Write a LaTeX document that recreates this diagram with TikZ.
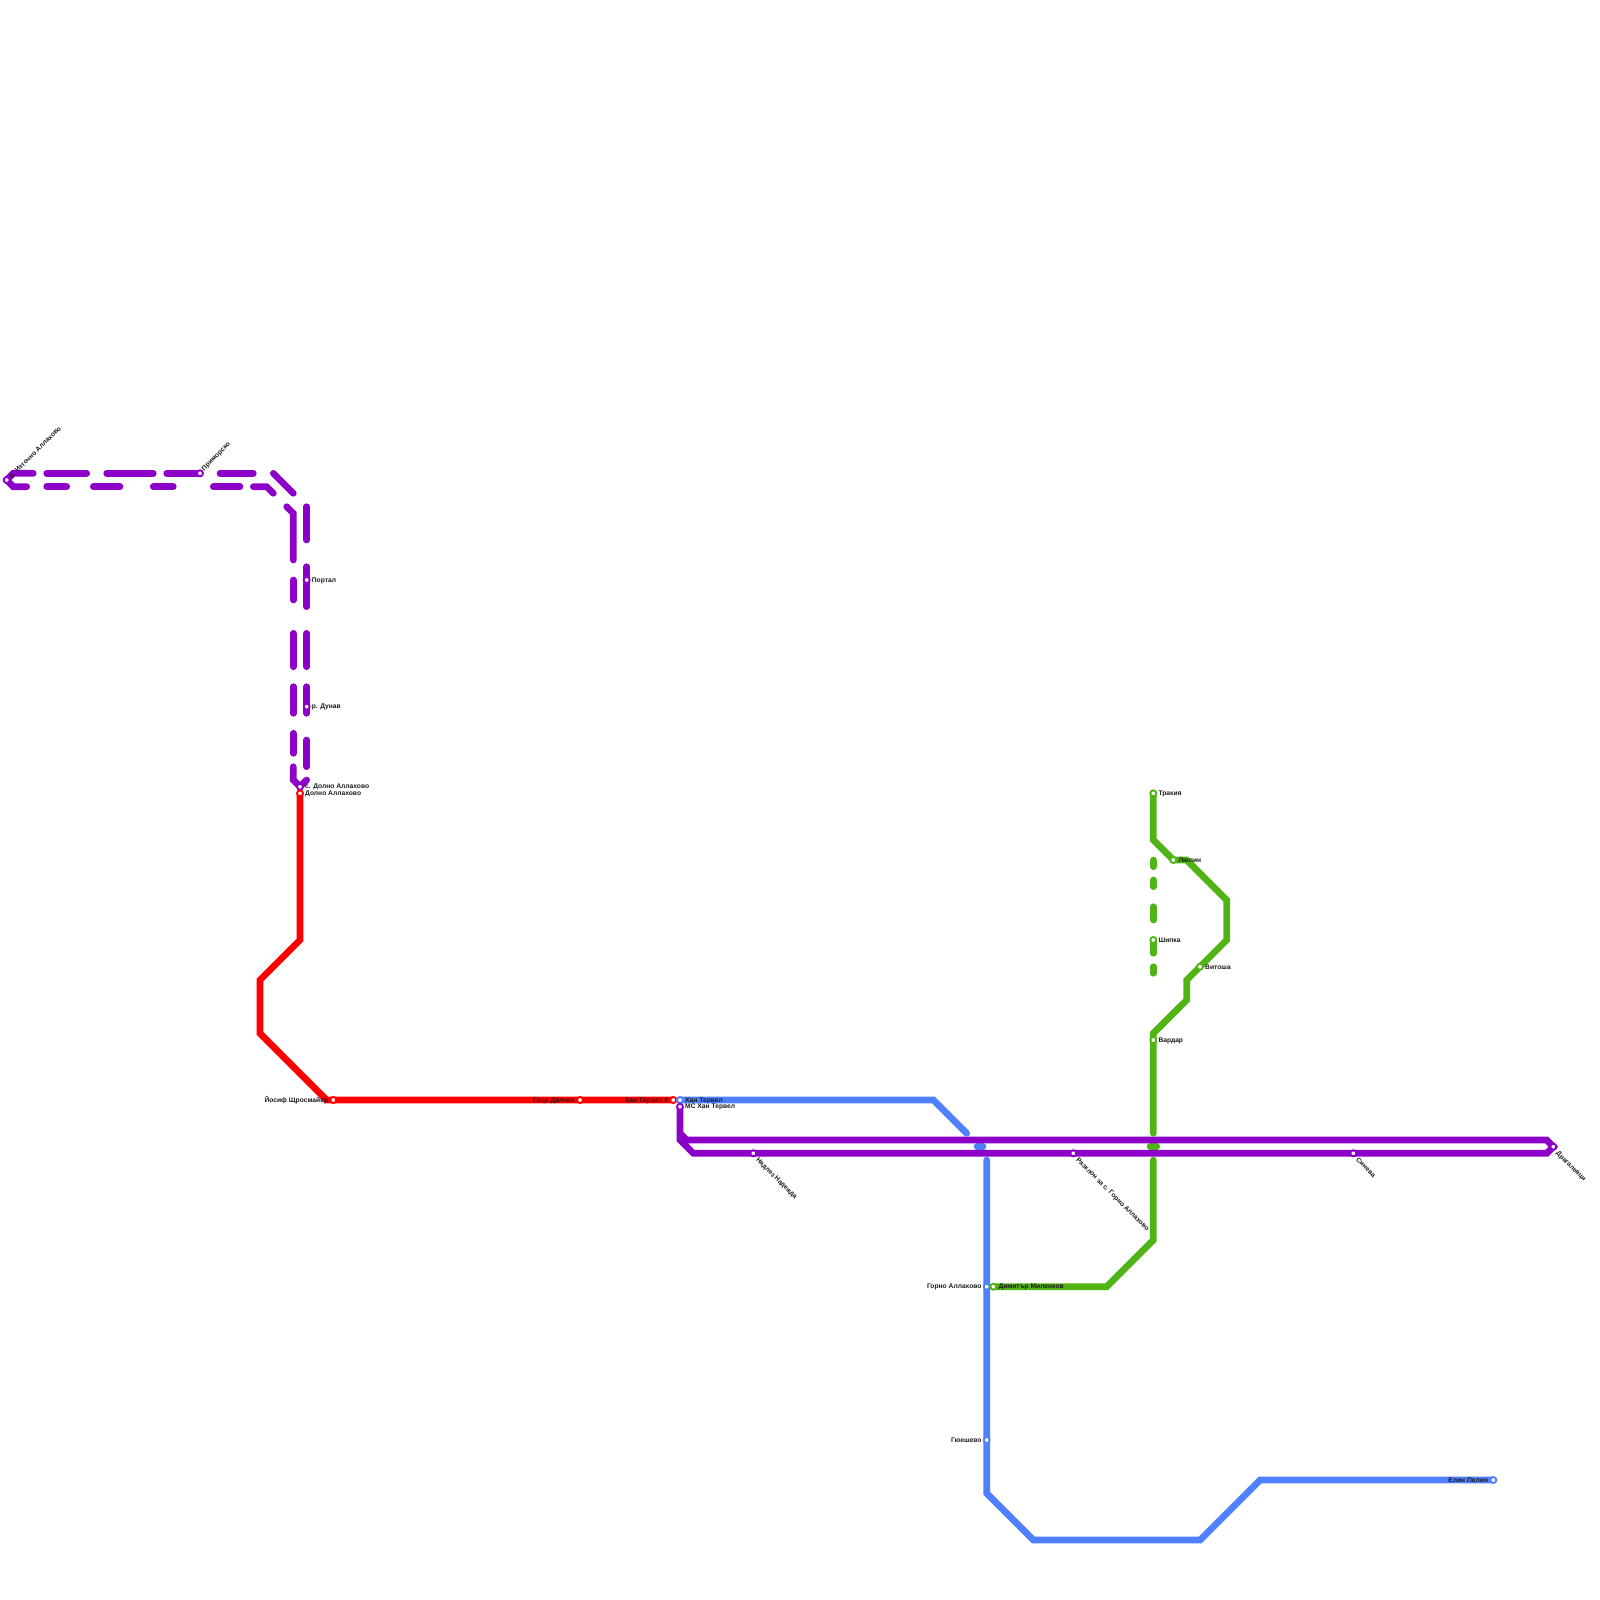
\documentclass[tikz,border=0pt]{standalone}
\usepackage{fontspec}
\setmainfont{Liberation Sans}
\definecolor{lpurple}{HTML}{8C00C8}
\definecolor{lblue}{HTML}{4F80FF}
\definecolor{lred}{HTML}{FF0000}
\definecolor{lgreen}{HTML}{50B414}
\tikzset{
  x=1pt,y=-1pt,
  metro/.style={line width=6.67pt,line join=miter,line cap=round},
  metrobutt/.style={line width=6.67pt,line join=miter,line cap=butt},
  stn/.style={circle,fill=white,draw=#1,line width=1.9pt,inner sep=0pt,minimum size=6pt},
  lab/.style={font=\bfseries\fontsize{6.7}{7}\selectfont,text=black!90,inner sep=0pt},
  labr/.style={lab,anchor=west,xshift=5pt,yshift=-0.4pt},
  labl/.style={lab,anchor=east,xshift=-5pt,yshift=-0.4pt},
  labne/.style={lab,anchor=south west,rotate=45,xshift=4.4pt,yshift=-3pt},
  labse/.style={lab,anchor=north west,rotate=-45,xshift=6.6pt,yshift=1.5pt},
}
\begin{document}
\begin{tikzpicture}
\useasboundingbox (0,0) rectangle (1600,1600);
% station anchors
\coordinate (iztochno) at (6.7,480);
\coordinate (primorsko) at (200,473.3);
\coordinate (portal) at (306.7,580);
\coordinate (dunav) at (306.7,706.7);
\coordinate (sdolno) at (300,786.7);
\coordinate (dolno) at (300,793.3);
\coordinate (yosif) at (333.3,1100);
\coordinate (goce) at (580,1100);
\coordinate (hant2) at (673.3,1100);
\coordinate (hant) at (680,1100);
\coordinate (mshan) at (680,1106.7);
\coordinate (nadlez) at (753.3,1153.3);
\coordinate (razklon) at (1073.3,1153.3);
\coordinate (sineva) at (1353.3,1153.3);
\coordinate (dragalevci) at (1553.3,1146.7);
\coordinate (gorno) at (986.7,1286.7);
\coordinate (dimitar) at (993.3,1286.7);
\coordinate (gyueshevo) at (986.7,1440);
\coordinate (elin) at (1493.3,1480);
\coordinate (trakia) at (1153.3,793.3);
\coordinate (lyulin) at (1173.3,860);
\coordinate (shipka) at (1153.3,940);
\coordinate (vitosha) at (1200,966.7);
\coordinate (vardar) at (1153.3,1040);
% purple dashed branch, upper track
\draw[metro,lpurple] (iztochno) -- (13.3,473.3) -- (33.3,473.3);
\draw[metro,lpurple] (46.7,473.3) -- (86.7,473.3);
\draw[metro,lpurple] (106.7,473.3) -- (153.3,473.3);
\draw[metro,lpurple] (166.7,473.3) -- (primorsko);
\draw[metro,lpurple] (220,473.3) -- (253.3,473.3);
\draw[metro,lpurple] (273.3,473.3) -- (293.3,493.3);
\draw[metro,lpurple] (306.7,506.7) -- (306.7,540);
\draw[metro,lpurple] (306.7,566.7) -- (306.7,606.7);
\draw[metro,lpurple] (306.7,633.3) -- (306.7,666.7);
\draw[metro,lpurple] (306.7,686.7) -- (306.7,713.3);
\draw[metro,lpurple] (306.7,740) -- (306.7,766.7);
\draw[metro,lpurple] (306.7,780) -- (sdolno);
% purple dashed branch, lower track
\draw[metro,lpurple] (iztochno) -- (13.3,486.7) -- (26.7,486.7);
\draw[metro,lpurple] (46.7,486.7) -- (66.7,486.7);
\draw[metro,lpurple] (93.3,486.7) -- (120,486.7);
\draw[metro,lpurple] (153.3,486.7) -- (173.3,486.7);
\draw[metro,lpurple] (213.3,486.7) -- (240,486.7);
\draw[metro,lpurple] (253.3,486.7) -- (266.7,486.7) -- (273.3,493.3);
\draw[metro,lpurple] (286.7,506.7) -- (293.3,513.3) -- (293.3,560);
\draw[metro,lpurple] (293.3,580) -- (293.3,600);
\draw[metro,lpurple] (293.3,633.3) -- (293.3,666.7);
\draw[metro,lpurple] (293.3,686.7) -- (293.3,713.3);
\draw[metro,lpurple] (293.3,733.3) -- (293.3,753.3);
\draw[metro,lpurple] (293.3,766.7) -- (293.3,780) -- (sdolno);
% red
\draw[metrobutt,lred] (dolno) -- (300,940) -- (260,980) -- (260,1033.3) -- (326.7,1100) -- (hant2);
% blue
\draw[metro,lblue,line cap=butt] (hant) -- (933.3,1100) -- (966.7,1133.3);
\fill[lblue] (966.7,1133.3) circle (3.33pt);
\draw[metro,lblue] (977,1146.7) -- (983,1146.7);
\draw[metro,lblue] (986.7,1160) -- (986.7,1493.3) -- (1033.3,1540) -- (1200,1540) -- (1260,1480) -- (elin);
% green
\draw[metro,lgreen] (trakia) -- (1153.3,840) -- (lyulin) -- (1186.7,860) -- (1226.7,900) -- (1226.7,940) -- (1186.7,980) -- (1186.7,1000) -- (1153.3,1033.3) -- (1153.3,1133.3);
\draw[metro,lgreen] (1150,1146.7) -- (1156.7,1146.7);
\draw[metro,lgreen] (1153.3,1160) -- (1153.3,1240) -- (1106.7,1286.7) -- (dimitar);
\draw[metro,lgreen] (1153.3,860) -- (1153.3,866.7);
\draw[metro,lgreen] (1153.3,880) -- (1153.3,886.7);
\draw[metro,lgreen] (1153.3,906.7) -- (1153.3,920);
\draw[metro,lgreen] (shipka) -- (1153.3,953.3);
\draw[metro,lgreen] (1153.3,966.7) -- (1153.3,973.3);
% purple main
\draw[metrobutt,lpurple] (mshan) -- (680,1140) -- (693.3,1153.3) -- (1546.7,1153.3) -- (dragalevci) -- (1546.7,1140) -- (686.7,1140) -- (680,1133.3);
% stations and labels
\node[stn=lpurple] (n1) at (iztochno) {};
\node[labne] at (iztochno) {с. Източно Аллахово};
\node[stn=lpurple] (n2) at (primorsko) {};
\node[labne] at (primorsko) {Приморско};
\node[stn=lpurple] (n3) at (portal) {};
\node[labr] at (portal) {Портал};
\node[stn=lpurple] (n4) at (dunav) {};
\node[labr] at (dunav) {р. Дунав};
\node[stn=lpurple] (n5) at (sdolno) {};
\node[labr] at (sdolno) {с. Долно Аллахово};
\node[stn=lred] (n6) at (dolno) {};
\node[labr] at (dolno) {Долно Аллахово};
\node[stn=lred] (n7) at (yosif) {};
\node[labl] at (yosif) {Йосиф Щросмайер};
\node[stn=lred] (n8) at (goce) {};
\node[labl] at (goce) {Гоце Делчев};
\node[stn=lred] (n9) at (hant2) {};
\node[labl] at (hant2) {Хан Тервел II};
\node[stn=lblue] (n10) at (hant) {};
\node[labr] at (hant) {Хан Тервел};
\node[stn=lpurple] (n11) at (mshan) {};
\node[labr] at (mshan) {МС Хан Тервел};
\node[stn=lpurple] (n12) at (nadlez) {};
\node[labse] at (nadlez) {Надлез Надежда};
\node[stn=lpurple] (n13) at (razklon) {};
\node[labse] at (razklon) {Разклон за с. Горно Аллахово};
\node[stn=lpurple] (n14) at (sineva) {};
\node[labse] at (sineva) {Синева};
\node[stn=lpurple] (n15) at (dragalevci) {};
\node[labse] at (dragalevci) {Драгалевци};
\node[stn=lblue] (n16) at (gorno) {};
\node[labl] at (gorno) {Горно Аллахово};
\node[stn=lgreen] (n17) at (dimitar) {};
\node[labr] at (dimitar) {Димитър Миленков};
\node[stn=lblue] (n18) at (gyueshevo) {};
\node[labl] at (gyueshevo) {Гюешево};
\node[stn=lblue] (n19) at (elin) {};
\node[labl] at (elin) {Елин Пелин};
\node[stn=lgreen] (n20) at (trakia) {};
\node[labr] at (trakia) {Тракия};
\node[stn=lgreen] (n21) at (lyulin) {};
\node[labr] at (lyulin) {Люлин};
\node[stn=lgreen] (n22) at (shipka) {};
\node[labr] at (shipka) {Шипка};
\node[stn=lgreen] (n23) at (vitosha) {};
\node[labr] at (vitosha) {Витоша};
\node[stn=lgreen] (n24) at (vardar) {};
\node[labr] at (vardar) {Вардар};
\end{tikzpicture}
\end{document}
